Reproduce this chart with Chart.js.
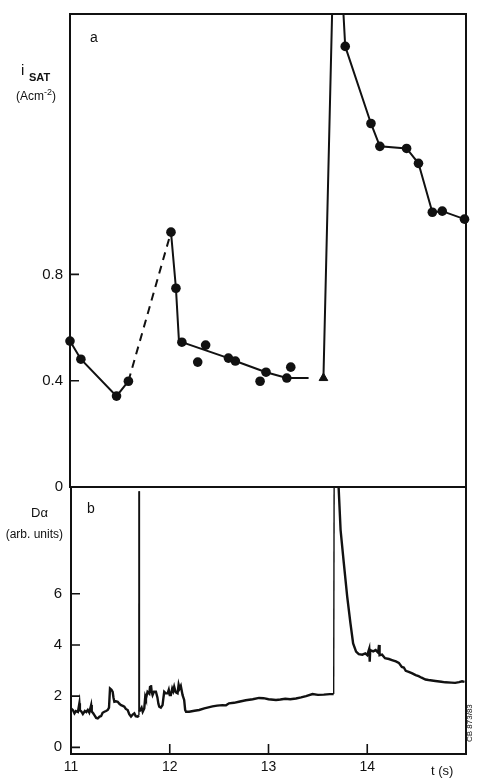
<!DOCTYPE html>
<html>
<head>
<meta charset="utf-8">
<script src="https://cdn.jsdelivr.net/npm/chart.js@4.4.1/dist/chart.umd.min.js"></script>
<style>
  body { margin: 0; background: #fff; }
  #wrap { position: relative; width: 477px; height: 781px; overflow: hidden; font-family: "Liberation Sans", Arial, sans-serif; color: #111; }
  #wrap canvas { position: absolute; left: 0; }
  .txt { position: absolute; white-space: nowrap; line-height: 1; }
</style>
</head>
<body>
<div id="wrap">
  <canvas id="chartA" width="477" height="513" style="top:-6px"></canvas>
  <canvas id="chartB" width="477" height="314" style="top:467px"></canvas>

  <div class="txt" style="left:90px;top:30px;font-size:14px">a</div>
  <div class="txt" style="left:21px;top:62px;font-size:15px">i</div>
  <div class="txt" style="left:29px;top:72px;font-size:11px;font-weight:bold">SAT</div>
  <div class="txt" style="left:0;top:88px;width:56px;text-align:right;font-size:12px">(Acm<sup style="font-size:9px">-2</sup>)</div>

  <div class="txt" style="left:87px;top:501px;font-size:14px">b</div>
  <div class="txt" style="left:31px;top:506px;font-size:13px">Dα</div>
  <div class="txt" style="left:0;top:528px;width:63px;text-align:right;font-size:12px">(arb. units)</div>

  <div class="txt" style="left:431px;top:764px;font-size:13px">t (s)</div>
  <div class="txt" style="left:466px;top:742px;font-size:8px;transform:rotate(-90deg);transform-origin:left top">CB 873/83</div>
</div>

<script>
// ---- panel a : i_SAT (A cm^-2) ----
// measured points (filled circles)
const dotT = [11.0, 11.11, 11.47, 11.59, 12.02, 12.07, 12.13, 12.29, 12.37, 12.6, 12.67, 12.92, 12.98, 13.19, 13.23,
              13.78, 14.04, 14.13, 14.4, 14.52, 14.66, 14.76, 14.985];
const dotI = [0.549, 0.481, 0.342, 0.398, 0.959, 0.748, 0.545, 0.470, 0.534, 0.485, 0.474, 0.398, 0.432, 0.410, 0.451,
              1.658, 1.368, 1.282, 1.274, 1.218, 1.034, 1.038, 1.008];
// triangle point
const triT = [13.56];
const triI = [0.41];
// drawn lines
const lineT1 = [11.0, 11.11, 11.47, 11.59];
const lineI1 = [0.549, 0.481, 0.342, 0.398];
const dashT = [11.59, 12.02];
const dashI = [0.398, 0.959];
const lineT2 = [12.02, 12.07, 12.1, 12.13, 12.6, 12.67, 12.98, 13.19, 13.41];
const lineI2 = [0.959, 0.748, 0.553, 0.545, 0.485, 0.474, 0.432, 0.410, 0.410];
const spikeT = [13.56, 13.655, 13.745, 13.78];
const spikeI = [0.41, 1.9, 1.9, 1.658];
const lineT3 = [13.78, 14.04, 14.13, 14.4, 14.52, 14.66, 14.76, 14.985];
const lineI3 = [1.658, 1.368, 1.282, 1.274, 1.218, 1.034, 1.038, 1.008];
const ticksA = [0, 0.4, 0.8];

// ---- panel b : D alpha (arb. units) ----
const tD = [11.0, 11.02, 11.035, 11.05, 11.07, 11.085, 11.09, 11.105, 11.12, 11.14, 11.155, 11.17, 11.185, 11.204, 11.21,
  11.225, 11.237, 11.255, 11.271, 11.29, 11.305, 11.32, 11.338, 11.355, 11.372, 11.385, 11.395, 11.41, 11.422, 11.43,
  11.439, 11.455, 11.473, 11.49, 11.507, 11.525, 11.54, 11.555, 11.574, 11.59, 11.608, 11.625, 11.641, 11.655, 11.675,
  11.688, 11.689, 11.692, 11.693, 11.702, 11.715, 11.726, 11.742, 11.752, 11.759, 11.775, 11.793, 11.8, 11.81, 11.818,
  11.826, 11.84, 11.86, 11.875, 11.885, 11.894, 11.91, 11.927, 11.935, 11.944, 11.96, 11.978, 11.99, 12.0, 12.011,
  12.025, 12.035, 12.045, 12.06, 12.079, 12.09, 12.1, 12.112, 12.13, 12.146, 12.156, 12.165, 12.197, 12.25, 12.298,
  12.35, 12.433, 12.48, 12.534, 12.57, 12.6, 12.65, 12.7, 12.77, 12.84, 12.904, 12.95, 13.0, 13.076, 13.12,
  13.17, 13.22, 13.278, 13.33, 13.38, 13.446, 13.5, 13.56, 13.62, 13.66, 13.665, 13.7, 13.73, 13.763, 13.797,
  13.83, 13.857, 13.887, 13.914, 13.95, 13.98, 14.0, 14.02, 14.025, 14.03, 14.06, 14.085, 14.11, 14.119, 14.125,
  14.15, 14.18, 14.22, 14.25, 14.29, 14.32, 14.35, 14.37, 14.39, 14.42, 14.456, 14.49, 14.52, 14.55, 14.59,
  14.62, 14.69, 14.75, 14.79, 14.85, 14.89, 14.93, 14.96, 14.985];
const dD = [1.52, 1.45, 1.33, 1.42, 1.38, 1.72, 1.45, 1.40, 1.30, 1.42, 1.38, 1.46, 1.36, 1.65, 1.40,
  1.33, 1.26, 1.15, 1.13, 1.20, 1.22, 1.35, 1.39, 1.42, 1.46, 1.55, 2.30, 2.25, 2.17, 1.95,
  1.78, 1.80, 1.78, 1.70, 1.65, 1.62, 1.59, 1.50, 1.46, 1.30, 1.20, 1.28, 1.33, 1.22, 1.20,
  1.25, 10.0, 10.0, 1.40, 1.46, 1.55, 1.39, 1.52, 1.98, 1.90, 2.17, 2.10, 2.35, 2.43, 2.15,
  2.04, 2.17, 2.17, 1.95, 1.70, 1.59, 1.55, 1.65, 1.90, 2.17, 2.11, 2.11, 2.25, 2.04, 2.04,
  2.30, 2.20, 2.37, 2.15, 2.11, 2.45, 2.30, 2.40, 2.04, 1.85, 1.46, 1.39, 1.39, 1.43, 1.46,
  1.52, 1.60, 1.63, 1.65, 1.64, 1.72, 1.74, 1.78, 1.84, 1.88, 1.93, 1.92, 1.88, 1.85, 1.87,
  1.90, 1.88, 1.91, 1.95, 2.00, 2.08, 2.05, 2.06, 2.08, 2.08, 11.0, 11.0, 8.49, 7.19, 5.89,
  4.84, 4.06, 3.74, 3.64, 3.62, 3.67, 3.60, 3.85, 3.35, 3.80, 3.75, 3.80, 3.70, 4.00, 3.60,
  3.62, 3.48, 3.45, 3.41, 3.36, 3.30, 3.14, 3.12, 2.99, 2.95, 2.89, 2.82, 2.78, 2.72, 2.65,
  2.63, 2.59, 2.56, 2.54, 2.53, 2.52, 2.55, 2.58, 2.56];
const ticksB = [0, 2, 4, 6];
const ticksX = [11, 12, 13, 14];

const ink = '#111';
const font = { family: '"Liberation Sans", Arial, sans-serif', size: 15 };

function pts(xs, ys) {
  return xs.map((x, i) => ({ x: x, y: ys[i] }));
}

// frame round the plot area plus short inward ticks
const frame = {
  id: 'frame',
  afterDraw(chart, args, opts) {
    const { ctx, chartArea: a, scales } = chart;
    ctx.save();
    ctx.strokeStyle = ink;
    ctx.lineWidth = 2;
    ctx.strokeRect(a.left, a.top, a.right - a.left, a.bottom - a.top);
    ctx.lineWidth = 1.6;
    ctx.beginPath();
    scales.y.ticks.forEach(t => {
      const y = scales.y.getPixelForValue(t.value);
      ctx.moveTo(a.left, y);
      ctx.lineTo(a.left + 9, y);
    });
    if (opts.xTicks) {
      scales.x.ticks.forEach(t => {
        const x = scales.x.getPixelForValue(t.value);
        ctx.moveTo(x, a.bottom);
        ctx.lineTo(x, a.bottom - 10);
      });
    }
    ctx.stroke();
    ctx.restore();
  }
};

function lineSet(xs, ys, dash) {
  return {
    data: pts(xs, ys),
    showLine: true,
    borderColor: ink,
    borderWidth: 2,
    borderDash: dash || [],
    pointRadius: 0,
    tension: 0
  };
}

new Chart(document.getElementById('chartA'), {
  type: 'scatter',
  data: {
    datasets: [
      lineSet(lineT1, lineI1),
      lineSet(dashT, dashI, [8, 6]),
      lineSet(lineT2, lineI2),
      lineSet(spikeT, spikeI),
      lineSet(lineT3, lineI3),
      { data: pts(dotT, dotI), pointRadius: 4.8, backgroundColor: ink, borderWidth: 0, pointHoverRadius: 4.8, clip: false },
      { data: pts(triT, triI), pointStyle: 'triangle', pointRadius: 5, backgroundColor: ink, borderColor: ink, borderWidth: 1 }
    ]
  },
  options: {
    responsive: false,
    animation: false,
    events: [],
    layout: { padding: { top: 20, right: 11, bottom: 20, left: 0 } },
    plugins: { legend: { display: false }, tooltip: { enabled: false }, frame: {} },
    scales: {
      x: { type: 'linear', min: 11, max: 15, display: false },
      y: {
        type: 'linear', min: 0, max: 1.78,
        grid: { display: false, drawTicks: false },
        border: { display: false },
        afterBuildTicks: s => { s.ticks = ticksA.map(v => ({ value: v })); },
        afterFit: s => { s.width = 70; },
        ticks: { color: ink, font: font, padding: 7, callback: v => String(v) }
      }
    }
  },
  plugins: [frame]
});

new Chart(document.getElementById('chartB'), {
  type: 'scatter',
  data: {
    datasets: [{
      data: pts(tD, dD),
      showLine: true,
      borderColor: ink,
      borderWidth: 2.4,
      pointRadius: 0,
      tension: 0,
      segment: {
        borderWidth: c => (Math.abs(c.p1.parsed.y - c.p0.parsed.y) > 5 && Math.abs(c.p1.parsed.x - c.p0.parsed.x) < 0.01 ? 1.4 : 2.4)
      }
    }]
  },
  options: {
    responsive: false,
    animation: false,
    events: [],
    layout: { padding: { top: 20, right: 11, bottom: 0, left: 0 } },
    plugins: { legend: { display: false }, tooltip: { enabled: false }, frame: { xTicks: true } },
    scales: {
      x: {
        type: 'linear', min: 11, max: 15,
        grid: { display: false, drawTicks: false },
        border: { display: false },
        afterBuildTicks: s => { s.ticks = ticksX.map(v => ({ value: v })); },
        afterFit: s => { s.height = 27; },
        ticks: { color: ink, font: { family: font.family, size: 14 }, padding: 5, maxRotation: 0 }
      },
      y: {
        type: 'linear', min: -0.26, max: 10.17,
        grid: { display: false, drawTicks: false },
        border: { display: false },
        afterBuildTicks: s => { s.ticks = ticksB.map(v => ({ value: v })); },
        afterFit: s => { s.width = 71; },
        ticks: { color: ink, font: font, padding: 9 }
      }
    }
  },
  plugins: [frame]
});
</script>
</body>
</html>
